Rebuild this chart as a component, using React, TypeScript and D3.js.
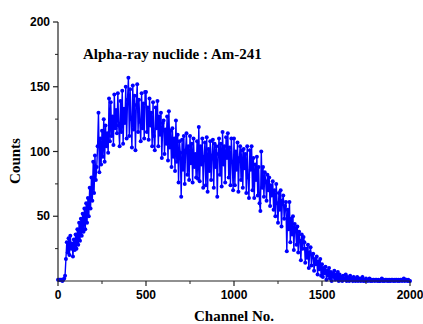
import React from "react";
import { scaleLinear, line } from "d3";

// channel step of the sampled spectrum
const step = 5;

// counts, one value every 5 channels (0..2000)
const counts = [
  1, 1, 1, 1, 1, 0, 1, 2, 4, 17, 30, 22, 33, 20, 35, 25, 29, 19, 32, 24,
  36, 25, 40, 28, 45, 31, 48, 35, 52, 38, 56, 40, 60, 45, 64, 50, 72, 56, 80, 62,
  92, 68, 97, 78, 88, 104, 130, 84, 110, 90, 116, 96, 125, 92, 120, 104, 114, 99, 141, 108,
  138, 112, 127, 105, 144, 118, 132, 114, 145, 120, 104, 139, 115, 147, 106, 133, 122, 150, 110, 140,
  157, 112, 148, 125, 103, 151, 117, 143, 101, 136, 152, 115, 140, 123, 108, 145, 118, 137, 110, 146,
  146, 115, 134, 109, 141, 120, 130, 104, 138, 112, 101, 134, 118, 139, 104, 127, 113, 130, 95, 122,
  124, 98, 117, 106, 127, 93, 131, 103, 116, 88, 118, 96, 110, 85, 124, 92, 113, 76, 108, 99,
  65, 109, 86, 112, 75, 101, 114, 82, 104, 78, 112, 91, 106, 76, 110, 88, 98, 80, 108, 79,
  119, 77, 104, 90, 110, 72, 96, 107, 74, 111, 69, 102, 85, 108, 78, 97, 109, 72, 106, 88,
  104, 65, 98, 110, 82, 106, 73, 115, 90, 104, 76, 111, 95, 114, 80, 103, 74, 110, 92, 70,
  110, 74, 100, 86, 107, 69, 95, 104, 78, 101, 72, 102, 87, 98, 68, 104, 80, 64, 101, 86,
  104, 70, 95, 64, 90, 78, 96, 66, 88, 60, 54, 100, 72, 88, 65, 84, 77, 62, 82, 70,
  80, 58, 74, 66, 77, 55, 70, 50, 75, 60, 45, 68, 55, 70, 42, 62, 66, 48, 58, 61,
  23, 55, 40, 61, 30, 48, 36, 50, 24, 44, 40, 28, 42, 22, 38, 31, 16, 36, 25, 34,
  30, 14, 25, 18, 28, 10, 22, 26, 12, 20, 21, 8, 17, 13, 19, 5, 15, 9, 17, 4,
  13, 3, 10, 6, 11, 1, 8, 4, 10, 2, 7, 0, 6, 3, 8, 1, 5, 2, 7, 0,
  5, 1, 3, 0, 4, 2, 1, 5, 0, 3, 2, 0, 4, 1, 2, 0, 3, 1, 0, 2,
  3, 0, 1, 2, 0, 1, 3, 0, 1, 0, 2, 1, 0, 1, 2, 0, 1, 0, 1, 1,
  0, 1, 1, 0, 1, 0, 0, 1, 2, 0, 1, 0, 1, 1, 0, 1, 0, 1, 0, 1,
  1, 0, 1, 0, 1, 1, 0, 1, 0, 1, 1, 0, 1, 2, 0, 1, 1, 0, 1, 0,
  0,
];

const xTicks = [0, 500, 1000, 1500, 2000];
const xMinor = [250, 750, 1250, 1750];
const yTicks = [50, 100, 150, 200];
const yMinor = [25, 75, 125, 175];

const title = "Alpha-ray nuclide : Am-241";

export default function App() {
  const x = scaleLinear().domain([0, 2000]).range([58, 410]);
  const y = scaleLinear().domain([0, 200]).range([281, 22]);

  const pts = counts.map((c, i) => ({ ch: i * step, c }));
  const path = line<{ ch: number; c: number }>()
    .x((d) => x(d.ch))
    .y((d) => y(d.c))(pts);

  const tickFont = {
    fontFamily: "'Liberation Sans', Arial, sans-serif",
    fontWeight: "bold" as const,
    fontSize: 12,
  };
  const serif = {
    fontFamily: "'Liberation Serif', 'Times New Roman', serif",
    fontWeight: "bold" as const,
    fontSize: 15,
  };

  return (
    <svg
      width={423}
      height={324}
      style={{ position: "absolute", left: 0, top: 0, background: "#fff" }}
    >
      {/* data */}
      <path d={path ?? ""} fill="none" stroke="#0000ff" strokeWidth={1.4} />
      {pts.map((d, i) => (
        <circle key={i} cx={x(d.ch)} cy={y(d.c)} r={2} fill="#0000ff" />
      ))}

      {/* axes */}
      <line x1={58} x2={58} y1={y(200)} y2={y(0)} stroke="#222" strokeWidth={1.2} />
      <line x1={x(0)} x2={x(2000)} y1={281} y2={281} stroke="#222" strokeWidth={1.2} />

      {yTicks.map((t) => (
        <g key={t}>
          <line x1={53} x2={58} y1={y(t)} y2={y(t)} stroke="#222" strokeWidth={1.2} />
          <text x={50} y={y(t) + 4} textAnchor="end" {...tickFont}>
            {t}
          </text>
        </g>
      ))}
      {yMinor.map((t) => (
        <line key={t} x1={55} x2={58} y1={y(t)} y2={y(t)} stroke="#222" strokeWidth={1} />
      ))}
      {xTicks.map((t) => (
        <g key={t}>
          <line x1={x(t)} x2={x(t)} y1={281} y2={286} stroke="#222" strokeWidth={1.2} />
          <text x={x(t)} y={299} textAnchor="middle" {...tickFont}>
            {t}
          </text>
        </g>
      ))}
      {xMinor.map((t) => (
        <line key={t} x1={x(t)} x2={x(t)} y1={281} y2={284} stroke="#222" strokeWidth={1} />
      ))}

      {/* labels */}
      <text x={83} y={59} {...serif}>
        {title}
      </text>
      <text x={234} y={321} textAnchor="middle" {...serif}>
        Channel No.
      </text>
      <text transform="translate(20,161) rotate(-90)" textAnchor="middle" {...serif}>
        Counts
      </text>
    </svg>
  );
}
